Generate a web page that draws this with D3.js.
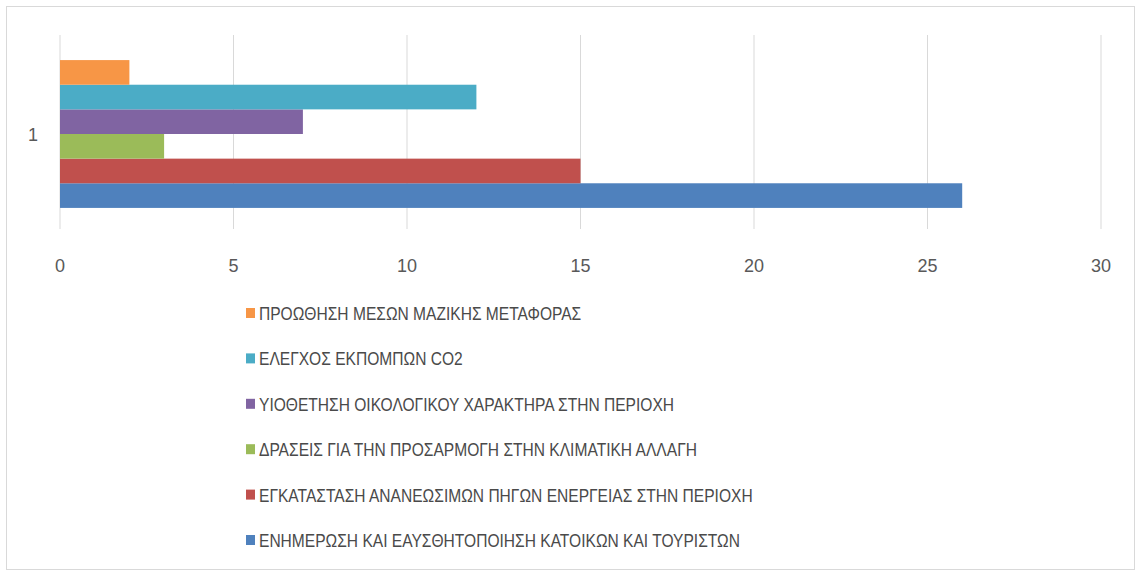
<!DOCTYPE html>
<html>
<head>
<meta charset="utf-8">
<script src="https://cdn.jsdelivr.net/npm/d3@7"></script>
<style>
body{margin:0;background:#fff;}
text{font-family:"Liberation Sans",sans-serif;fill:#595959;}
</style>
</head>
<body>
<div class="canvas"></div>
<script>
// data (bottom bar first, like the excel series order)
var categories = ['1'];
var seriesNames = [
	'ΕΝΗΜΕΡΩΣΗ ΚΑΙ ΕΑΥΣΘΗΤΟΠΟΙΗΣΗ ΚΑΤΟΙΚΩΝ ΚΑΙ ΤΟΥΡΙΣΤΩΝ',
	'ΕΓΚΑΤΑΣΤΑΣΗ ΑΝΑΝΕΩΣΙΜΩΝ ΠΗΓΩΝ ΕΝΕΡΓΕΙΑΣ ΣΤΗΝ ΠΕΡΙΟΧΗ',
	'ΔΡΑΣΕΙΣ ΓΙΑ ΤΗΝ ΠΡΟΣΑΡΜΟΓΗ ΣΤΗΝ ΚΛΙΜΑΤΙΚΗ ΑΛΛΑΓΗ',
	'ΥΙΟΘΕΤΗΣΗ ΟΙΚΟΛΟΓΙΚΟΥ ΧΑΡΑΚΤΗΡΑ ΣΤΗΝ ΠΕΡΙΟΧΗ',
	'ΕΛΕΓΧΟΣ ΕΚΠΟΜΠΩΝ CO2',
	'ΠΡΟΩΘΗΣΗ ΜΕΣΩΝ ΜΑΖΙΚΗΣ ΜΕΤΑΦΟΡΑΣ'
];
var seriesValues = [26, 15, 3, 7, 12, 2];
var seriesColors = ['#4F81BD', '#C0504D', '#9BBB59', '#8064A2', '#4BACC6', '#F79646'];
var xTicks = [0, 5, 10, 15, 20, 25, 30];

var W = 1141, H = 572;
var svg = d3.select('.canvas').append('svg').attr('width', W).attr('height', H);

// outer frame
svg.append('rect').attr('x', 6.5).attr('y', 6.5).attr('width', 1128).attr('height', 563)
	.attr('fill', '#fff').attr('stroke', '#d9d9d9');

var x = d3.scaleLinear().domain([0, 30]).range([60, 1101]);
var cat = d3.scaleBand().domain(categories).range([231, 37]);
var inner = d3.scaleBand().domain(d3.range(seriesNames.length))
	.range([cat.bandwidth() * 0.881, cat.bandwidth() * 0.119]);

// gridlines
svg.append('g').selectAll('line').data(xTicks).enter().append('line')
	.attr('x1', function(d){return x(d);}).attr('x2', function(d){return x(d);})
	.attr('y1', 35).attr('y2', 229)
	.attr('stroke', '#d9d9d9').attr('stroke-width', 1);

// bars
var cat0 = categories[0];
svg.append('g').selectAll('rect').data(seriesValues).enter().append('rect')
	.attr('x', x(0))
	.attr('y', function(d, i){return cat(cat0) + inner(i);})
	.attr('width', function(d){return x(d) - x(0);})
	.attr('height', inner.bandwidth())
	.attr('fill', function(d, i){return seriesColors[i];});

// x axis labels
svg.append('g').selectAll('text').data(xTicks).enter().append('text')
	.attr('x', function(d){return x(d);}).attr('y', 272)
	.attr('text-anchor', 'middle').style('font-size', '18px')
	.text(function(d){return d;});

// category label
svg.append('text').attr('x', 33).attr('y', cat(cat0) + cat.bandwidth() / 2 + 7)
	.attr('text-anchor', 'middle').style('font-size', '18px').text(cat0);

// legend, reversed
var legendOrder = d3.range(seriesNames.length).reverse();
var lg = svg.append('g').selectAll('g').data(legendOrder).enter().append('g')
	.attr('transform', function(d, j){return 'translate(246,' + (313 + j * 45.4) + ')';});
lg.append('rect').attr('x', 0).attr('y', -5).attr('width', 9).attr('height', 10)
	.attr('fill', function(d){return seriesColors[d];});
// narrow text: squeeze horizontally
lg.append('text').attr('transform', 'translate(13,7) scale(0.82,1)')
	.style('font-size', '19px').style('fill', '#4a4a4a')
	.text(function(d){return seriesNames[d];});
</script>
</body>
</html>
